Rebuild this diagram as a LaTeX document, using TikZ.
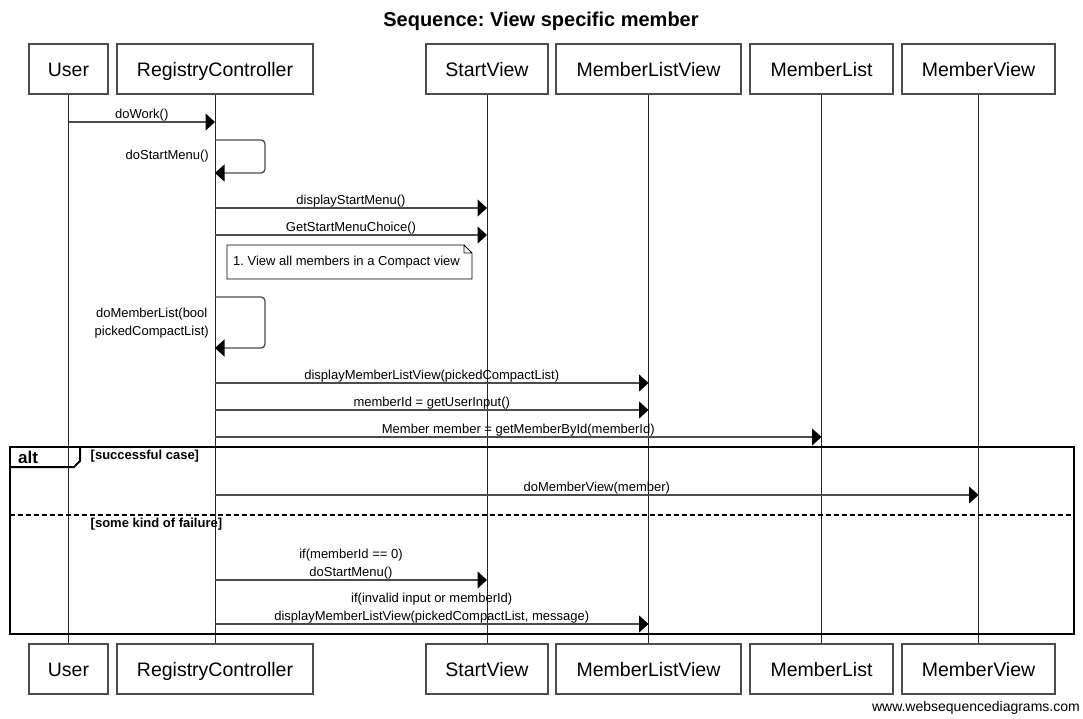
\documentclass[tikz,border=0pt]{standalone}
\usepackage{fontspec}
\setmainfont{Liberation Sans}
\usetikzlibrary{arrows.meta}
\frenchspacing
\tikzset{
    actor/.style={draw=black!70, line width=1.3pt, minimum height=50pt, inner sep=0pt, text height=15pt, text depth=0pt, font=\fontsize{19.5}{23}\selectfont},
    life/.style={black!85, line width=1pt},
    msg/.style={black!70, line width=1.3pt, -{Triangle[length=9.5pt,width=17pt,color=black]}},
    lbl/.style={text=black, font=\fontsize{13}{18.5}\selectfont, inner sep=0pt, align=center},
    guard/.style={font=\fontsize{13}{15}\selectfont\bfseries, inner sep=0pt},
}
\begin{document}
\begin{tikzpicture}[x=1pt,y=-1pt]
            \useasboundingbox (0,0) rectangle (1083,718);
            \node[font=\fontsize{20}{24}\selectfont\bfseries] (title) at (541,21) {Sequence: View specific member};
            % participants, top and bottom
            \node[actor, minimum width=79pt]  (uT)  at (68.5,69)  {User};
            \node[actor, minimum width=196pt] (rcT) at (215,69)   {RegistryController};
            \node[actor, minimum width=122pt] (svT) at (487,69)   {StartView};
            \node[actor, minimum width=185pt] (mlvT) at (648.5,69) {MemberListView};
            \node[actor, minimum width=143pt] (mlT) at (821.5,69) {MemberList};
            \node[actor, minimum width=153pt] (mvT) at (978.5,69) {MemberView};
            \node[actor, minimum width=79pt]  (uB)  at (68.5,669)  {User};
            \node[actor, minimum width=196pt] (rcB) at (215,669)   {RegistryController};
            \node[actor, minimum width=122pt] (svB) at (487,669)   {StartView};
            \node[actor, minimum width=185pt] (mlvB) at (648.5,669) {MemberListView};
            \node[actor, minimum width=143pt] (mlB) at (821.5,669) {MemberList};
            \node[actor, minimum width=153pt] (mvB) at (978.5,669) {MemberView};
            % lifelines
            \draw[life] (uT) -- (uB);
            \draw[life] (rcT) -- (rcB);
            \draw[life] (svT) -- (svB);
            \draw[life] (mlvT) -- (mlvB);
            \draw[life] (mlT) -- (mlB);
            \draw[life] (mvT) -- (mvB);
            % messages
            \draw[msg] (uT |- 0,122) -- (rcT |- 0,122) node[lbl, midway, above] {doWork()};
            \draw[msg, rounded corners=4pt] (rcT |- 0,140) -- (265,140) -- (265,173) -- (rcT |- 0,173);
            \node[lbl, anchor=east] (dsm) at (209,156.5) {doStartMenu()};
            \draw[msg] (rcT |- 0,208) -- (svT |- 0,208) node[lbl, midway, above] {displayStartMenu()};
            \draw[msg] (rcT |- 0,235) -- (svT |- 0,235) node[lbl, midway, above] {GetStartMenuChoice()};
            \node[lbl, anchor=west] (note) at (233,262.5) {1. View all members in a Compact view};
            \draw[black, line width=0.8pt] (227,245) -- (464,245) -- (472,253) -- (472,279) -- (227,279) -- cycle (464,245) |- (472,253);
            \draw[msg, rounded corners=4pt] (rcT |- 0,297) -- (265,297) -- (265,348) -- (rcT |- 0,348);
            \node[lbl, anchor=east] (dml) at (209,323) {doMemberList(bool\\pickedCompactList)};
            \draw[msg] (rcT |- 0,383) -- (mlvT |- 0,383) node[lbl, midway, above] {displayMemberListView(pickedCompactList)};
            \draw[msg] (rcT |- 0,410) -- (mlvT |- 0,410) node[lbl, midway, above] {memberId = getUserInput()};
            \draw[msg] (rcT |- 0,437) -- (mlT |- 0,437) node[lbl, midway, above] {Member member = getMemberById(memberId)};
            % alt frame
            \draw[line width=2.5pt] (10,447) rectangle (1074,634);
            \draw[line width=2pt] (10,467) -- (74,467) -- (80,461) -- (80,447);
            \node[font=\fontsize{17}{20}\selectfont\bfseries, anchor=base west, inner sep=0pt] (alt) at (18,463.5) {alt};
            \node[guard, anchor=base west] (ok) at (90.5,459.5) {[successful case]};
            \draw[msg] (rcT |- 0,495) -- (mvT |- 0,495) node[lbl, midway, above] {doMemberView(member)};
            \draw[line width=2pt, dash pattern=on 5pt off 3pt] (10,515) -- (1074,515);
            \node[guard, anchor=base west] (fail) at (90.5,527.5) {[some kind of failure]};
            \draw[msg] (rcT |- 0,580) -- (svT |- 0,580) node[lbl, midway, above] {if(memberId == 0)\\doStartMenu()};
            \draw[msg] (rcT |- 0,624) -- (mlvT |- 0,624) node[lbl, midway, above] {if(invalid input or memberId)\\displayMemberListView(pickedCompactList, message)};
            \node[font=\fontsize{14}{17}\selectfont, anchor=east, inner sep=0pt] (wsd) at (1080,708) {www.websequencediagrams.com};
        \end{tikzpicture}
\end{document}
